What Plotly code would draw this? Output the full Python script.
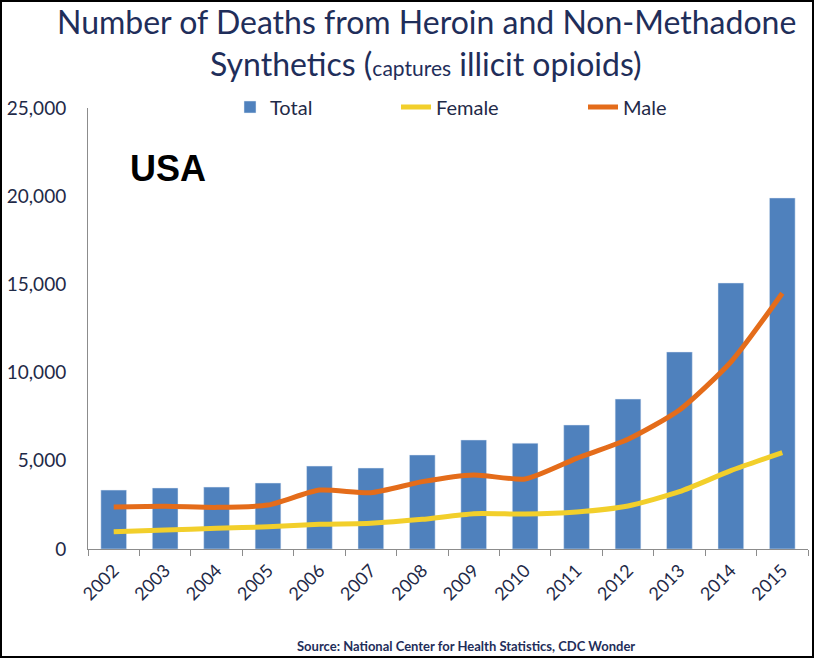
import plotly.graph_objects as go

years = ["2002", "2003", "2004", "2005", "2006", "2007", "2008",
         "2009", "2010", "2011", "2012", "2013", "2014", "2015"]
total = [3340, 3460, 3510, 3740, 4700, 4590, 5330, 6180, 6000, 7030, 8500, 11170, 15080, 19900]
female = [980, 1080, 1170, 1260, 1400, 1460, 1680, 2000, 1980, 2100, 2440, 3250, 4440, 5460]
male = [2380, 2420, 2360, 2490, 3340, 3190, 3820, 4200, 3970, 5140, 6220, 7880, 10600, 14500]

W, H = 816, 659
L, R, T, B = 88, 8, 108, 110

def px_x(x):
    return (x - L) / (W - L - R)

def px_y(y):
    return (H - B - y) / (H - T - B)

TEXT = "#1F2A48"
NAVY = "#1F2E5A"

fig = go.Figure()
fig.add_trace(go.Bar(x=years, y=total, name="Total", marker_color="#4F81BD", legend="legend"))
fig.add_trace(go.Scatter(x=years, y=female, name="Female", mode="lines", legend="legend2",
                         line=dict(color="#F2CF2B", width=5, shape="spline", smoothing=0.6)))
fig.add_trace(go.Scatter(x=years, y=male, name="Male", mode="lines", legend="legend3",
                         line=dict(color="#E46C1A", width=5, shape="spline", smoothing=0.6)))

FONT = "Lato, Open Sans, sans-serif"

def leg(xpx):
    return dict(orientation="h", x=px_x(xpx), xanchor="left", y=px_y(107), yanchor="middle",
                font=dict(size=20, color=TEXT), itemwidth=30,
                bgcolor="rgba(0,0,0,0)")

fig.update_layout(
    width=W, height=H,
    margin=dict(l=L, r=R, t=T, b=B, autoexpand=False),
    paper_bgcolor="white", plot_bgcolor="white",
    bargap=0.5,
    font=dict(family=FONT, color=TEXT),
    legend=leg(230),
    legend2=leg(396),
    legend3=leg(583),
    xaxis=dict(showline=True, linecolor="#8C8C8C", linewidth=1, ticks="outside", tickson="boundaries",
               ticklen=6, tickcolor="#8C8C8C", tickangle=-45, automargin=False,
               ticklabelstandoff=3,
               tickfont=dict(size=18, color=TEXT)),
    yaxis=dict(range=[0, 25000], dtick=5000, tickformat=",", showgrid=False, zeroline=False,
               showline=True, linecolor="#8C8C8C", linewidth=1, ticks="", automargin=False,
               ticklabelstandoff=17,
               tickfont=dict(size=19, color=TEXT)),
    showlegend=True,
)

fig.add_annotation(text="Number of Deaths from Heroin and Non-Methadone",
                   xref="paper", yref="paper", x=px_x(426), y=px_y(22),
                   xanchor="center", yanchor="middle", showarrow=False,
                   font=dict(size=32, color=NAVY, family=FONT))
fig.add_annotation(text="Synthetics (<span style='font-size:21px'>captures</span> illicit opioids)",
                   xref="paper", yref="paper", x=px_x(426), y=px_y(63),
                   xanchor="center", yanchor="middle", showarrow=False,
                   font=dict(size=32, color=NAVY, family=FONT))
fig.add_annotation(text="<b>USA</b>", xref="paper", yref="paper", x=px_x(168), y=px_y(168),
                   xanchor="center", yanchor="middle", showarrow=False,
                   font=dict(size=36, color="black", family="Liberation Sans, Arial, sans-serif"))
fig.add_annotation(text="<b>Source: National Center for Health Statistics, CDC Wonder</b>",
                   xref="paper", yref="paper", x=px_x(466), y=px_y(646),
                   xanchor="center", yanchor="middle", showarrow=False,
                   font=dict(size=13, color=NAVY, family=FONT))

fig.add_shape(type="rect", xref="paper", yref="paper",
              x0=px_x(1), x1=px_x(813), y0=px_y(1), y1=px_y(657),
              line=dict(color="black", width=2), layer="above")

fig.write_html("out.html", config={"displayModeBar": False},
               post_script="document.body.style.margin='0';")
